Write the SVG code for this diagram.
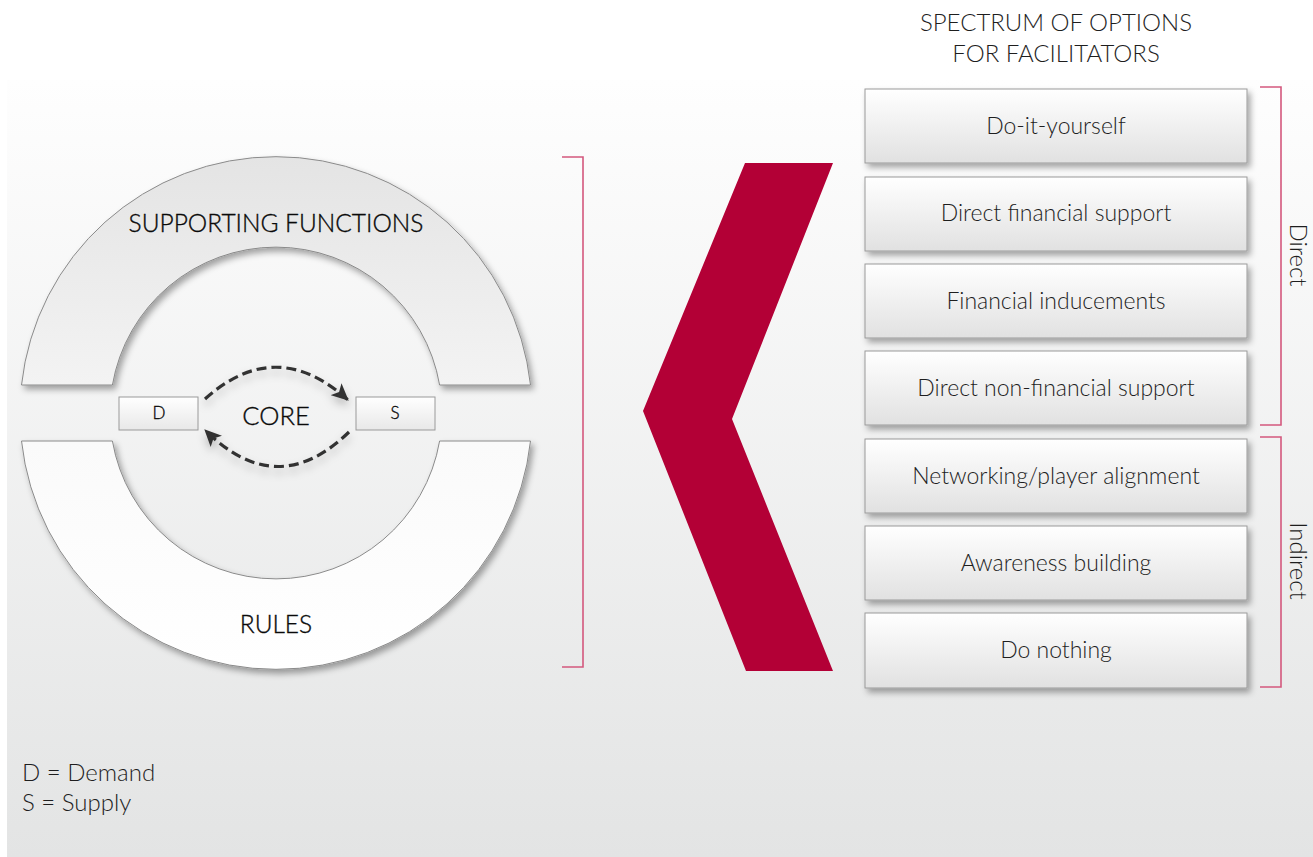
<svg xmlns="http://www.w3.org/2000/svg" width="1313" height="857" viewBox="0 0 1313 857">
<defs>
<linearGradient id="bg" x1="0" y1="0" x2="0" y2="1">
<stop offset="0" stop-color="#fefefe"/>
<stop offset="1" stop-color="#e3e4e4"/>
</linearGradient>
<linearGradient id="boxg" x1="0" y1="0" x2="0" y2="1">
<stop offset="0" stop-color="#ffffff"/>
<stop offset="1" stop-color="#e1e1e1"/>
</linearGradient>
<linearGradient id="upg" x1="0" y1="0" x2="0" y2="1">
<stop offset="0" stop-color="#e4e4e4"/>
<stop offset="1" stop-color="#f3f3f3"/>
</linearGradient>
<linearGradient id="lowg" x1="0" y1="0" x2="0" y2="1">
<stop offset="0" stop-color="#fafafa"/>
<stop offset="1" stop-color="#ffffff"/>
</linearGradient>
<linearGradient id="smallg" x1="0" y1="0" x2="0" y2="1">
<stop offset="0" stop-color="#ffffff"/>
<stop offset="1" stop-color="#e8e8e8"/>
</linearGradient>
<filter id="sh" x="-10%" y="-10%" width="130%" height="140%">
<feDropShadow dx="3" dy="4" stdDeviation="3" flood-color="#000" flood-opacity="0.35"/>
</filter>
<filter id="shArc" x="-20%" y="-20%" width="140%" height="160%">
<feDropShadow dx="0" dy="5" stdDeviation="4" flood-color="#000" flood-opacity="0.25"/>
</filter>
<marker id="ah" markerWidth="18" markerHeight="16" refX="16" refY="8" orient="auto" markerUnits="userSpaceOnUse">
<path d="M0,0 L17,8 L0,16 L4,8 Z" fill="#333"/>
</marker>
</defs>
<style>
.t{font-family:Lato,"Open Sans","Liberation Sans",sans-serif;font-weight:300;fill:#1e1e1e;}
.r{fill:#0a0a0a;stroke:#0a0a0a;stroke-width:0.35;}
.box{fill:url(#boxg);stroke:#9a9a9a;stroke-width:1;}
.lbl{font-size:23px;text-anchor:middle;}
.brk{fill:none;stroke:#d4587d;stroke-width:1.6;}
.dash{fill:none;stroke:#333;stroke-width:3.2;stroke-dasharray:10 5;}
.ring{stroke:#8a8a8a;stroke-width:1;}
</style>
<rect x="0" y="0" width="1313" height="857" fill="#ffffff"/>
<rect x="7" y="80" width="1306" height="777" fill="url(#bg)"/>

<text class="t" x="1056" y="31" font-size="24" text-anchor="middle">SPECTRUM OF OPTIONS</text>
<text class="t" x="1056" y="62" font-size="24" text-anchor="middle">FOR FACILITATORS</text>

<g id="supporting-functions">
<path class="ring" d="M21.5 385 A256 256 0 0 1 530.5 385 L439.6 385 A166 166 0 0 0 112.4 385 Z" fill="url(#upg)" filter="url(#sh)"/>
<text class="t r" x="276" y="232" font-size="24.5" text-anchor="middle">SUPPORTING FUNCTIONS</text>
</g>
<g id="rules">
<path class="ring" d="M21.5 441 A256 256 0 0 0 530.5 441 L439.6 441 A166 166 0 0 1 112.4 441 Z" fill="url(#lowg)" filter="url(#sh)"/>
<text class="t r" x="276" y="633" font-size="24.5" text-anchor="middle">RULES</text>
</g>
<g id="demand">
<rect x="119" y="397" width="79" height="33" fill="url(#smallg)" stroke="#9a9a9a"/>
<text class="t r" x="159" y="419" font-size="17" text-anchor="middle">D</text>
</g>
<g id="supply">
<rect x="356" y="397" width="79" height="33" fill="url(#smallg)" stroke="#9a9a9a"/>
<text class="t r" x="395" y="419" font-size="17" text-anchor="middle">S</text>
</g>
<g id="core">
<text class="t r" x="276" y="425" font-size="25.5" text-anchor="middle">CORE</text>
</g>

<g id="connectors" filter="url(#shArc)">
<path class="dash" d="M205 399 Q276 335 348 400" marker-end="url(#ah)"/>
<path class="dash" d="M349 432 Q277 502 205 430" marker-end="url(#ah)"/>
</g>

<g id="left-bracket">
<path class="brk" d="M562 157 H583 V667 H562"/>
</g>

<g id="chevron">
<polygon points="745,163 833,163 732,419 833,671 746,671 643,411" fill="#b30036"/>
</g>

<g id="opt1"><rect class="box" x="865" y="89" width="382" height="74" filter="url(#sh)"/><text class="t lbl" x="1056" y="134">Do-it-yourself</text></g>
<g id="opt2"><rect class="box" x="865" y="177" width="382" height="74" filter="url(#sh)"/><text class="t lbl" x="1056" y="221">Direct financial support</text></g>
<g id="opt3"><rect class="box" x="865" y="264" width="382" height="74" filter="url(#sh)"/><text class="t lbl" x="1056" y="309">Financial inducements</text></g>
<g id="opt4"><rect class="box" x="865" y="351" width="382" height="74" filter="url(#sh)"/><text class="t lbl" x="1056" y="396">Direct non-financial support</text></g>
<g id="opt5"><rect class="box" x="865" y="439" width="382" height="74" filter="url(#sh)"/><text class="t lbl" x="1056" y="484">Networking/player alignment</text></g>
<g id="opt6"><rect class="box" x="865" y="526" width="382" height="74" filter="url(#sh)"/><text class="t lbl" x="1056" y="571">Awareness building</text></g>
<g id="opt7"><rect class="box" x="865" y="613" width="382" height="75" filter="url(#sh)"/><text class="t lbl" x="1056" y="658">Do nothing</text></g>

<g id="direct">
<path class="brk" d="M1260 87 H1281 V425 H1260"/>
<text class="t" font-size="24" text-anchor="middle" transform="translate(1290 255) rotate(90)">Direct</text>
</g>
<g id="indirect">
<path class="brk" d="M1260 437 H1281 V687 H1260"/>
<text class="t" font-size="24" text-anchor="middle" transform="translate(1290 561) rotate(90)">Indirect</text>
</g>

<g id="legend">
<text class="t" x="22" y="781" font-size="24">D = Demand</text>
<text class="t" x="22" y="811" font-size="24">S = Supply</text>
</g>
</svg>
